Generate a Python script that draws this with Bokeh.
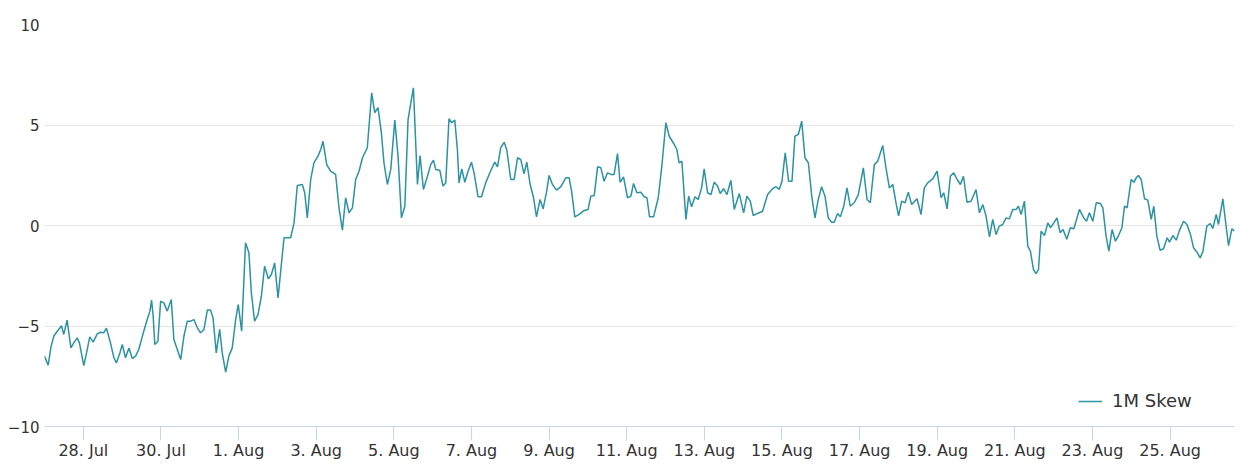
import pandas as pd
from bokeh.plotting import figure
from bokeh.models import FixedTicker, Legend, LegendItem
from bokeh.embed import file_html
from bokeh.resources import INLINE

# ---- data (hours after 27 Jul 00:00, 1M skew value) ----
start_date = "2023-07-27 00:00"
hours = [
    0.0, 2.3, 4.1, 5.8, 7.9, 9.5, 10.5, 11.9, 14.0, 16.3, 18.1, 20.2, 21.6, 24.3, 26.0, 28.0, 30.1, 32.6,
    34.6, 36.6, 38.3, 40.8, 42.9, 44.5, 46.6, 48.1, 50.1, 52.2, 54.3, 56.3, 58.3, 61.1, 63.5, 65.2, 66.2,
    67.2, 68.2, 70.1, 71.8, 73.8, 75.9, 78.4, 80.0, 82.1, 84.2, 86.2, 88.3, 90.3, 92.4, 94.5, 96.5, 98.6,
    100.7, 102.7, 104.2, 106.2, 108.3, 109.9, 112.0, 114.0, 116.1, 118.2, 119.8, 121.9, 124.3, 126.4,
    127.9, 129.9, 132.0, 134.1, 136.1, 138.4, 140.3, 142.3, 144.4, 148.1, 152.2, 154.3, 156.3, 159.4,
    160.9, 162.5, 164.6, 166.6, 169.1, 170.8, 172.2, 174.5, 176.9, 180.0, 182.1, 184.2, 186.2, 188.3,
    190.4, 192.4, 194.5, 196.6, 199.6, 202.3, 204.2, 206.2, 208.3, 209.9, 212.0, 214.1, 216.6, 218.6,
    220.7, 222.8, 224.8, 226.5, 228.1,
    230.6, 232.2, 234.3, 236.8, 238.8, 240.5, 241.9, 244.4, 246.4, 248.1, 250.1, 251.8, 253.7, 255.3,
    256.3, 258.0, 259.9, 261.9, 264.0, 265.6, 268.1, 270.2, 272.8, 275.5, 278.4, 280.1, 282.1, 284.2,
    285.8, 288.3, 290.4, 292.5, 294.5, 296.5, 298.2, 300.3, 302.4, 304.2, 306.4, 308.3, 310.4, 312.0,
    314.1, 316.6, 319.3,
    322.3, 324.4, 325.9, 327.9, 330.6, 333.7, 336.1, 337.8, 339.9, 342.0, 344.0, 346.0, 348.1, 350.2,
    352.2, 354.3, 355.9, 358.0, 360.5, 362.6, 364.2, 366.3, 368.7, 370.8, 372.5, 374.1, 376.6, 379.5,
    381.7, 384.2, 386.3, 389.4, 391.0, 392.4, 394.1, 396.6, 398.3, 400.1, 402.2, 404.2, 406.3, 407.9,
    410.0, 412.1, 414.1, 416.2, 417.8, 419.9, 422.0, 424.4,
    426.5, 429.6, 432.3, 434.3, 436.4, 438.2, 440.9, 444.0, 447.1, 450.2, 452.3, 454.3, 456.0, 458.0,
    460.1, 462.2, 464.0, 466.1, 468.2, 470.2, 472.3, 474.4, 476.4, 478.4, 480.5, 482.6, 484.6, 486.7,
    488.3, 490.4, 492.1, 494.2, 496.2, 498.2, 500.7, 503.2, 506.3, 508.6, 510.6, 513.1, 515.2, 518.3,
    520.3, 522.4, 524.5, 526.5, 528.1,
    530.0, 532.1, 534.1, 536.2, 539.5, 542.0, 544.0, 546.1, 549.2, 551.9, 554.4, 556.0, 558.1, 560.1,
    562.2, 564.3, 566.3, 568.2, 570.4, 572.9, 576.0, 578.1, 580.2, 582.2, 584.3, 586.3, 588.4, 590.4,
    592.5, 594.6, 596.6, 598.7, 600.8, 602.2, 603.9, 605.9, 608.0, 609.6, 611.5, 613.1, 614.6, 616.2,
    618.3, 620.4, 622.0, 624.1, 626.0, 628.0, 629.8, 632.1, 634.3,
    636.5, 639.9, 642.6, 644.3, 646.1, 648.2, 650.3, 652.9, 654.4, 656.4, 658.1, 660.1, 662.2, 664.1,
    666.2, 667.8, 669.4, 671.9, 673.6, 675.0, 676.4, 678.1, 680.2, 682.2, 684.3, 685.9, 687.8, 689.8,
    691.9, 694.2, 695.6, 697.7, 699.8, 701.8, 704.3, 706.4, 708.6, 710.5, 712.6, 714.6, 716.3, 718.7,
    720.8, 722.4, 724.5, 725.9, 728.6, 730.1, 732.1, 734.2, 735.8,
]
skew = [
    -6.5, -6.95, -6.0, -5.5, -5.26, -5.1, -4.98, -5.42, -4.71, -6.09, -5.84, -5.59, -5.84, -6.97, -6.34,
    -5.54, -5.8, -5.39, -5.31, -5.34, -5.11, -5.84, -6.58, -6.83, -6.34, -5.92, -6.58, -6.09, -6.62, -6.5,
    -6.17, -5.34, -4.68, -4.26, -3.71, -4.51, -5.92, -5.76, -3.77, -3.85, -4.26, -3.68, -5.67, -6.17,
    -6.67, -5.51, -4.76, -4.76, -4.68, -5.09, -5.34, -5.17, -4.21, -4.21, -4.59, -6.34, -5.17, -6.34,
    -7.3, -6.5, -6.09, -4.68, -3.93, -5.26, -0.86, -1.36, -3.35, -4.76, -4.43, -3.52, -2.02, -2.65,
    -2.44, -1.86, -3.6, -0.61, -0.61, 0.13, 1.99, 2.04, 1.63, 0.38, 2.29, 3.12, 3.45, 3.78, 4.19, 3.03,
    2.7, 2.54, 0.88, -0.23, 1.38, 0.63, 0.88, 2.29, 2.7, 3.37, 3.87, 6.6, 5.61, 5.86, 4.61, 3.12, 2.04,
    2.79, 5.24, 3.45, 0.38, 0.96, 5.27, 6.1, 6.85,
    2.04, 3.48, 1.79, 2.45, 3.03, 3.25, 2.79, 2.75, 1.96, 2.12, 5.31, 5.11, 5.24, 3.78, 2.12, 2.82,
    2.15, 2.7, 3.15, 2.62, 1.43, 1.43, 2.12, 2.65, 3.15, 2.92, 3.87, 4.14, 3.78, 2.29, 2.29, 3.37,
    3.28, 2.57, 3.15, 2.04, 1.38, 0.43, 1.29, 0.83, 1.66, 2.49, 2.04, 1.76, 1.93,
    2.37, 2.37, 1.71, 0.43, 0.55, 0.75, 0.8, 1.46, 1.49, 2.92, 2.87, 2.2, 2.62, 2.54, 2.54, 3.58, 2.15,
    2.42, 1.38, 1.46, 2.09, 1.63, 1.66, 1.43, 1.38, 0.43, 0.43, 1.38, 2.95, 5.11, 4.44, 4.03, 3.78,
    3.12, 3.2, 0.3, 1.46, 0.93, 1.43, 1.29, 1.87, 2.82, 1.63, 1.54, 2.15, 1.96, 1.59, 1.83, 1.54, 2.25,
    0.8, 1.59, 0.63, 1.46, 1.21, 0.5, 0.6, 0.71, 1.54, 1.83, 1.93, 1.79, 2.2, 3.62, 2.2, 2.2, 4.44,
    4.53, 5.19, 3.37, 3.12, 1.46, 0.38, 1.29, 1.93, 1.46, 0.38, 0.16, 0.16, 0.6, 0.43, 0.96, 1.87,
    0.96, 1.13, 1.54, 2.87, 1.29, 1.13, 3.03, 3.2, 3.98, 2.87, 1.87, 2.04, 1.13, 0.48,
    1.21, 1.13, 1.66, 1.04, 1.33, 0.55, 1.87, 2.12, 2.32, 2.7, 1.38, 1.63, 0.83, 2.45, 2.62, 2.29,
    2.04, 2.45, 1.16, 1.21, 1.79, 0.63, 1.04, 0.46, -0.56, 0.3, -0.45, -0.03, 0.05, 0.38, 0.33, 0.8,
    0.8, 0.96, 0.55, 1.21, -1.03, -1.28, -2.19, -2.39, -2.19, -0.28, -0.5, 0.13, -0.11, 0.13, 0.38,
    -0.36, -0.2, -0.68, -0.11,
    -0.16, 0.8, 0.38, 0.21, 0.63, 0.21, 1.13, 1.09, 0.88, -0.53, -1.28, -0.2, -0.78, -0.5, -0.11, 0.96,
    0.88, 2.29, 2.15, 2.37, 2.49, 2.29, 1.33, 1.26, 0.3, 0.96, -0.53, -1.23, -1.16, -0.61, -0.83, -0.5,
    -0.73, -0.23, 0.21, 0.05, -0.45, -1.11, -1.33, -1.61, -1.28, -0.03, 0.1, -0.15, 0.55, 0.05, 1.33,
    0.3, -1.0, -0.16, -0.28,
]
series_name = "1M Skew"
x_tick_dates = ["2023-07-28", "2023-07-30", "2023-08-01", "2023-08-03", "2023-08-05", "2023-08-07",
                "2023-08-09", "2023-08-11", "2023-08-13", "2023-08-15", "2023-08-17", "2023-08-19",
                "2023-08-21", "2023-08-23", "2023-08-25"]
x_tick_labels = ["28. Jul", "30. Jul", "1. Aug", "3. Aug", "5. Aug", "7. Aug", "9. Aug", "11. Aug",
                 "13. Aug", "15. Aug", "17. Aug", "19. Aug", "21. Aug", "23. Aug", "25. Aug"]
y_ticks = [-10, -5, 0, 5, 10]
y_tick_labels = ["\u221210", "\u22125", "0", "5", "10"]

# ---- build ----
base = pd.Timestamp(start_date)
times = [base + pd.Timedelta(hours=h) for h in hours]

FONT = "DejaVu Sans"
TXT = "#333333"
LINE = "#2b93a2"

p = figure(width=1252, height=473, x_axis_type="datetime",
           x_range=(times[0], times[-1]), y_range=(-10, 10),
           output_backend="svg", toolbar_location=None,
           min_border_left=44, min_border_right=18, min_border_top=24, min_border_bottom=47)
p.outline_line_color = None
p.background_fill_color = "white"
p.border_fill_color = "white"

r = p.line(times, skew, line_color=LINE, line_width=1.5)

# x axis
tick_ms = [int(pd.Timestamp(d).value // 10**6) for d in x_tick_dates]
xa = p.xaxis[0]
xa.ticker = FixedTicker(ticks=tick_ms)
xa.major_label_overrides = {t: lab for t, lab in zip(tick_ms, x_tick_labels)}
xa.axis_line_color = "#ccd6eb"
xa.major_tick_line_color = "#ccd6eb"
xa.major_tick_out = 14
xa.major_tick_in = 0
xa.minor_tick_line_color = None
xa.major_label_standoff = 0
xa.major_label_text_font = FONT
xa.major_label_text_font_size = "16px"
xa.major_label_text_color = TXT
p.xgrid.visible = False

# y axis
ya = p.yaxis[0]
ya.ticker = FixedTicker(ticks=y_ticks)
ya.major_label_overrides = {t: lab for t, lab in zip(y_ticks, y_tick_labels)}
ya.axis_line_color = None
ya.major_tick_line_color = None
ya.major_tick_out = 0
ya.major_tick_in = 0
ya.minor_tick_line_color = None
ya.minor_tick_out = 0
ya.major_label_standoff = 5
ya.major_label_text_font = FONT
ya.major_label_text_font_size = "15px"
ya.major_label_text_color = TXT
p.ygrid.ticker = FixedTicker(ticks=y_ticks)
p.ygrid.grid_line_color = "#e6e6e6"
p.ygrid.grid_line_width = 1

legend = Legend(items=[LegendItem(label=series_name, renderers=[r])],
                location=(1034, 15), orientation="horizontal",
                glyph_width=24, glyph_height=20, label_height=20, label_standoff=10,
                padding=0, margin=0, spacing=0,
                border_line_color=None, background_fill_alpha=0,
                label_text_font=FONT, label_text_font_size="18px", label_text_color=TXT)
p.add_layout(legend)

open("out.html", "w").write(file_html(p, INLINE))
